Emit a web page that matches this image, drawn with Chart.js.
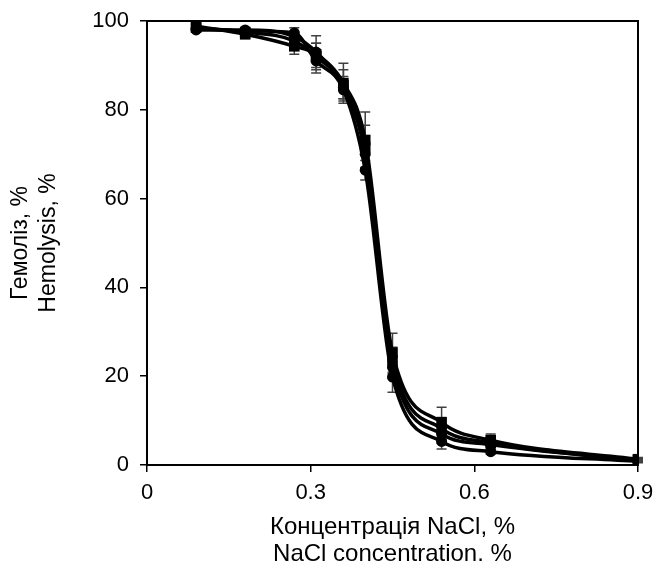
<!DOCTYPE html>
<html>
<head>
<meta charset="utf-8">
<script src="https://cdn.jsdelivr.net/npm/chart.js@4.4.0/dist/chart.umd.min.js"></script>
<style>
  body { margin: 0; background: #fff; }
  #wrap { width: 665px; height: 569px; }
</style>
</head>
<body>
<div id="wrap"><canvas id="hemoChart" width="665" height="569"></canvas></div>
<script>
const nacl = [0.09, 0.18, 0.27, 0.31, 0.36, 0.40, 0.45, 0.54, 0.63, 0.9];
const xTicks = [0, 0.3, 0.6, 0.9];
const yTicks = [0, 20, 40, 60, 80, 100];

const hemo1 = [98.3, 97.8, 97.3, 91.0, 84.5, 66.4, 19.8, 5.3, 3.0, 0.8];
const hemo2 = [98.8, 97.0, 94.3, 92.5, 86.0, 73.2, 25.3, 9.6, 5.6, 1.3];
const hemo3 = [98.5, 97.5, 95.5, 92.0, 85.5, 71.5, 23.5, 8.2, 5.0, 1.1];
const hemo4 = [98.0, 98.0, 96.5, 93.0, 85.0, 70.0, 22.0, 7.0, 4.6, 1.0];

const err1 = [0.6, 0.6, 1.2, 1.5, 2.0, 2.2, 3.4, 1.7, 0.6, 0.3];
const err2 = [0.6, 0.8, 1.8, 4.2, 4.5, 6.3, 4.4, 3.4, 1.4, 0.4];
const err3 = [0.5, 0.6, 1.2, 3.0, 3.5, 5.0, 3.0, 2.5, 1.2, 0.3];
const err4 = [0.5, 0.5, 1.0, 2.0, 2.5, 3.0, 2.5, 2.0, 1.0, 0.3];

function pts(ys) {
    return nacl.map((x, i) => ({ x: x, y: ys[i] }));
}

function makeSet(ys, errs, style) {
    return {
        data: pts(ys),
        errors: errs,
        borderColor: '#000',
        backgroundColor: '#000',
        borderWidth: 3.5,
        pointStyle: style,
        pointRadius: style === 'rect' ? 7.5 : 5.5,
        pointBorderWidth: 0,
        cubicInterpolationMode: 'monotone',
        fill: false
    };
}

// error bars, drawn under the lines
const errorBars = {
    id: 'errorBars',
    beforeDatasetsDraw(chart) {
        const ctx = chart.ctx;
        const xs = chart.scales.x, ys = chart.scales.y;
        ctx.save();
        ctx.strokeStyle = '#404040';
        ctx.lineWidth = 1.5;
        chart.data.datasets.forEach((ds) => {
            ds.data.forEach((p, i) => {
                const e = ds.errors[i];
                const px = xs.getPixelForValue(p.x);
                const top = ys.getPixelForValue(p.y + e);
                const bot = ys.getPixelForValue(p.y - e);
                ctx.beginPath();
                ctx.moveTo(px, top); ctx.lineTo(px, bot);
                ctx.moveTo(px - 5, top); ctx.lineTo(px + 5, top);
                ctx.moveTo(px - 5, bot); ctx.lineTo(px + 5, bot);
                ctx.stroke();
            });
        });
        ctx.restore();
    }
};

// box round the plot area
const frame = {
    id: 'frame',
    afterDraw(chart) {
        const a = chart.chartArea;
        const ctx = chart.ctx;
        ctx.save();
        ctx.strokeStyle = '#000';
        ctx.lineWidth = 2;
        ctx.strokeRect(a.left, a.top, a.right - a.left, a.bottom - a.top);
        ctx.restore();
    }
};

const fam = 'Liberation Sans, Arial, sans-serif';
const tickFont = { family: fam, size: 22, lineHeight: 0.9 };

new Chart(document.getElementById('hemoChart'), {
    type: 'line',
    data: {
        datasets: [
            makeSet(hemo4, err4, 'circle'),
            makeSet(hemo3, err3, 'rect'),
            makeSet(hemo2, err2, 'rect'),
            makeSet(hemo1, err1, 'circle')
        ]
    },
    options: {
        responsive: false,
        animation: false,
        layout: { padding: { top: 21, right: 27, left: 0, bottom: 0 } },
        plugins: {
            legend: { display: false },
            tooltip: { enabled: false }
        },
        scales: {
            x: {
                type: 'linear',
                min: 0,
                max: 0.9,
                afterBuildTicks: (s) => { s.ticks = xTicks.map(v => ({ value: v })); },
                afterFit: (s) => { s.height = 104; },
                ticks: {
                    color: '#000',
                    font: tickFont,
                    padding: 11,
                    maxRotation: 0,
                    callback: (v) => String(v)
                },
                grid: { drawOnChartArea: false, tickLength: 7, color: '#000', lineWidth: 1.5 },
                border: { color: '#000', width: 2 },
                title: {
                    display: true,
                    text: ['Концентрація NaCl, %', 'NaCl concentration. %'],
                    color: '#000',
                    font: { family: fam, size: 24, lineHeight: '27px' },
                    padding: { top: 0, bottom: 1 }
                }
            },
            y: {
                min: 0,
                max: 100,
                afterBuildTicks: (s) => { s.ticks = yTicks.map(v => ({ value: v })); },
                afterFit: (s) => { s.width = 147; },
                ticks: {
                    color: '#000',
                    font: tickFont,
                    padding: 11
                },
                grid: { drawOnChartArea: false, tickLength: 7, color: '#000', lineWidth: 1.5 },
                border: { color: '#000', width: 2 },
                title: {
                    display: true,
                    text: ['Гемоліз, %', 'Hemolysis, %'],
                    color: '#000',
                    font: { family: fam, size: 23, lineHeight: '28px' },
                    padding: { top: 7, bottom: 0 }
                }
            }
        }
    },
    plugins: [errorBars, frame]
});
</script>
</body>
</html>
